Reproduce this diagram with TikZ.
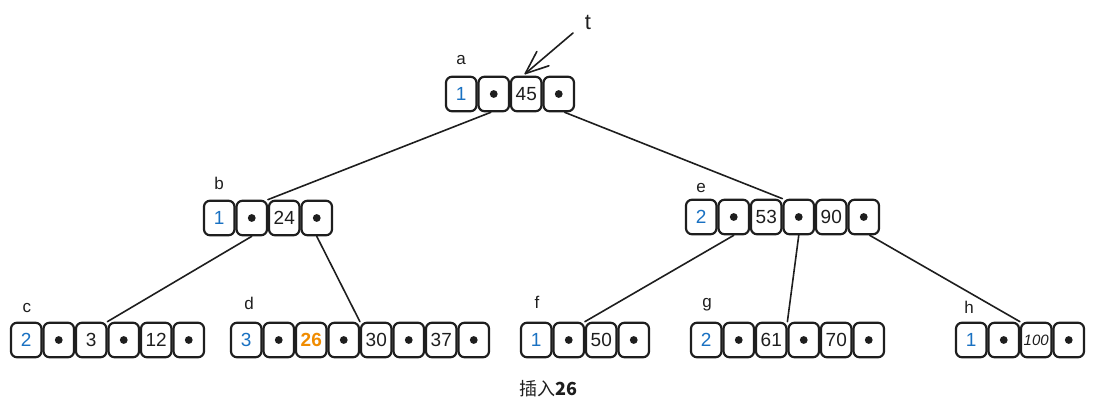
\documentclass[tikz,border=0pt]{standalone}
\usepackage{fontspec}
\setmainfont{Liberation Sans}
\newfontfamily\cjk{Noto Sans CJK SC}
\usetikzlibrary{calc}
\definecolor{ink}{HTML}{1E1E1E}
\definecolor{cnt}{HTML}{1971C2}
\definecolor{newkey}{HTML}{F08C00}
\tikzset{
  cell/.style={draw=ink, line width=2.2pt, rounded corners=6pt, fill=white,
    minimum width=30.5pt, minimum height=34.5pt, inner sep=0pt,
    font=\fontsize{19}{19}\selectfont, text=ink},
  cnum/.style={text=cnt},
  ckey/.style={},
  csmall/.style={font=\fontsize{15}{15}\selectfont\itshape},
  chot/.style={text=newkey, font=\fontsize{19}{19}\selectfont\bfseries},
  cptr/.style={path picture={\fill[ink] (path picture bounding box.center) circle (3.9pt);}},
  lbl/.style={font=\fontsize{17}{17}\selectfont, text=ink, inner sep=0pt},
  link/.style={draw=ink, line width=1.6pt, line cap=round, line join=round},
}
% a row of cells #1 = node prefix, (#2,#3) = left edge / vertical centre, #4 = style/text items
\newcommand\cellrow[4]{%
  \foreach \s/\v [count=\i] in {#4} {
    \node[cell,\s] (#1\i) at ({#2+32.5*\i-16.25}, #3) {\v};
  }}
\begin{document}
\begin{tikzpicture}[x=1pt,y=-1pt]
\useasboundingbox (0,0) rectangle (1095,414);

% root
\cellrow{a}{445}{94}{cnum/1, cptr/{}, ckey/45, cptr/{}}
% inner level
\cellrow{b}{203}{218}{cnum/1, cptr/{}, ckey/24, cptr/{}}
\cellrow{e}{685}{217}{cnum/2, cptr/{}, ckey/53, cptr/{}, ckey/90, cptr/{}}
% leaves
\cellrow{c}{10}{340}{cnum/2, cptr/{}, ckey/3, cptr/{}, ckey/12, cptr/{}}
\cellrow{d}{230}{340}{cnum/3, cptr/{}, chot/26, cptr/{}, ckey/30, cptr/{}, ckey/37, cptr/{}}
\cellrow{f}{520}{340}{cnum/1, cptr/{}, ckey/50, cptr/{}}
\cellrow{g}{690}{340}{cnum/2, cptr/{}, ckey/61, cptr/{}, ckey/70, cptr/{}}
\cellrow{h}{955}{340}{cnum/1, cptr/{}, csmall/100, cptr/{}}

% node names
\node[lbl] (la) at (461,60) {a};
\node[lbl] (lb) at (219,183) {b};
\node[lbl] (le) at (701,188) {e};
\node[lbl] (lc) at (27,308) {c};
\node[lbl] (ld) at (249,303) {d};
\node[lbl] (lf) at (537,302) {f};
\node[lbl] (lg) at (707,305) {g};
\node[lbl] (lh) at (969,307) {h};

% pointer t with an open two-stroke head
\node[lbl, font=\fontsize{22}{22}\selectfont] (t) at (588,22) {t};
\coordinate (ttail) at (573,33);
\coordinate (thead) at ($(a3.north)+(-1,-2)$);
\draw[link] (ttail) -- (thead);
\draw[link] ($(thead)!25pt!22:(ttail)$) -- (thead) -- ($(thead)!25pt!-22:(ttail)$);

% child links
\draw[link] (a2.south) ++(-3,0) -- (b3.north west);
\draw[link] ($(a4.south)+(6,0)$) -- (e4.north west);
\draw[link] (b2.south) -- (c4.north west);
\draw[link] (b4.south) -- (d5.north west);
\draw[link] (e2.south) -- (f3.north west);
\draw[link] (e4.south) -- (g4.north west);
\draw[link] ($(e6.south)+(6,0)$) -- (h3.north west);

% caption
\node[inner sep=0pt, text=ink, font=\fontsize{18}{18}\selectfont] (cap) at (548,389) {\cjk 插入\textbf{26}};
\end{tikzpicture}
\end{document}
